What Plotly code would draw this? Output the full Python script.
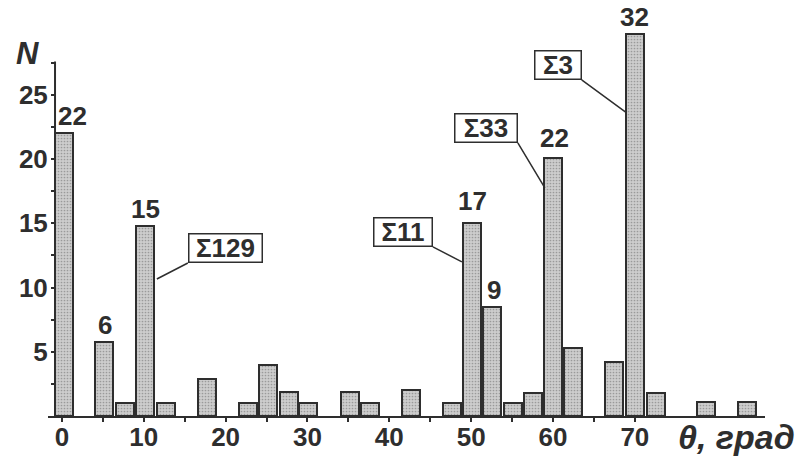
import plotly.graph_objects as go

# Bar centres (θ, degrees) and heights (N)
theta = [0.2, 5.2, 7.7, 10.2, 12.7, 17.7, 22.7, 25.2, 27.7, 30.1, 35.2, 37.6, 42.6,
         47.6, 50.1, 52.5, 55.1, 57.6, 60.0, 62.4, 67.5, 70.0, 72.6, 78.7, 83.7]
counts = [22.0, 5.75, 1.0, 14.8, 1.0, 2.9, 1.0, 3.95, 1.9, 1.0, 1.9, 1.0, 2.0,
          1.0, 15.0, 8.5, 1.0, 1.8, 20.1, 5.3, 4.2, 29.75, 1.8, 1.1, 1.1]

# Value labels written above some bars
label_theta = [1.3, 5.25, 10.26, 50.2, 52.8, 60.2, 70.0]
label_y = [22.0, 5.75, 14.8, 15.4, 8.5, 20.3, 29.75]
label_text = ["22", "6", "15", "17", "9", "22", "32"]

# Boxed sums with leader lines
sum_text = ["Σ129", "Σ11", "Σ33", "Σ3"]
sum_head_x = [11.6, 48.87, 59.0, 69.0]
sum_head_y = [10.67, 12.0, 17.76, 23.6]

x_ticks = [0, 5, 10, 15, 20, 25, 30, 35, 40, 45, 50, 55, 60, 65, 70]
x_tick_text = ["0", "", "10", "", "20", "", "30", "", "40", "", "50", "", "60", "", "70"]
y_ticks = [2.5, 5, 7.5, 10, 12.5, 15, 17.5, 20, 22.5, 25, 27.5]
y_tick_text = ["", "5", "", "10", "", "15", "", "20", "", "25", ""]

INK = "#2e2e2e"
FONT = "Liberation Sans"

fig = go.Figure()
fig.add_trace(go.Bar(
    x=theta, y=counts, width=2.2,
    marker=dict(color="#c4c4c4", line=dict(color=INK, width=2),
                pattern=dict(shape=".", size=3, solidity=0.25,
                             fgcolor="#9a9a9a", bgcolor="#cdcdcd",
                             fillmode="replace")),
    cliponaxis=False, hoverinfo="skip",
))

annotations = []
for x, y, t in zip(label_theta, label_y, label_text):
    annotations.append(dict(x=x, y=y, text=f"<b>{t}</b>", showarrow=False,
                            xanchor="center", yanchor="bottom",
                            font=dict(family=FONT, size=26, color=INK)))

# sum boxes: (width, ax, ay, xanchor)
box_w = [70, 55, 59, 43]
box_ax = [31, -29, -27, -45]
box_ay = [-16, -15, -45, -33]
box_xa = ["left", "right", "right", "right"]
for t, hx, hy, w, ax, ay, xa in zip(sum_text, sum_head_x, sum_head_y, box_w, box_ax, box_ay, box_xa):
    annotations.append(dict(x=hx, y=hy, text=f"<b>{t}</b>", showarrow=True,
                            arrowhead=0, arrowwidth=1.5, arrowcolor=INK,
                            ax=ax, ay=ay, xanchor=xa, yanchor="bottom",
                            width=w, height=25, borderpad=1,
                            bordercolor=INK, borderwidth=1.5, bgcolor="white",
                            font=dict(family=FONT, size=26, color=INK)))

annotations.append(dict(xref="paper", yref="paper", x=-0.028, y=0.883,
                        text="<b><i>N</i></b>", showarrow=False,
                        xanchor="center", yanchor="middle",
                        font=dict(family=FONT, size=31, color=INK)))
annotations.append(dict(xref="paper", yref="paper", x=1.044, y=-0.052,
                        text="<b><i>θ, град</i></b>", showarrow=False,
                        xanchor="right", yanchor="middle",
                        font=dict(family=FONT, size=34, color=INK)))

fig.update_layout(
    width=798, height=458,
    margin=dict(l=48, r=33, t=5, b=42),
    paper_bgcolor="white", plot_bgcolor="white",
    showlegend=False, bargap=0,
    annotations=annotations,
    shapes=[dict(type="line", xref="paper", yref="y", x0=0.0098, x1=0.0098,
                 y0=0, y1=27.6, line=dict(color=INK, width=2))],
    xaxis=dict(range=[-1.7, 85.9], showgrid=False, zeroline=False,
               showline=True, linecolor=INK, linewidth=2,
               tickmode="array", tickvals=x_ticks, ticktext=x_tick_text,
               ticks="outside", ticklen=4, tickwidth=1.5, tickcolor=INK,
               ticklabelstandoff=-7,
               tickfont=dict(family=FONT, size=26, color=INK, weight="bold")),
    yaxis=dict(range=[0, 32], showgrid=False, zeroline=False, showline=False,
               anchor="free", position=0.0098,
               tickmode="array", tickvals=y_ticks, ticktext=y_tick_text,
               ticks="outside", ticklen=4, tickwidth=1.5, tickcolor=INK,
               ticklabelstandoff=-2,
               tickfont=dict(family=FONT, size=26, color=INK, weight="bold")),
)

fig.write_html("out.html", config={"displayModeBar": False},
               post_script="document.body.style.margin='0';")
